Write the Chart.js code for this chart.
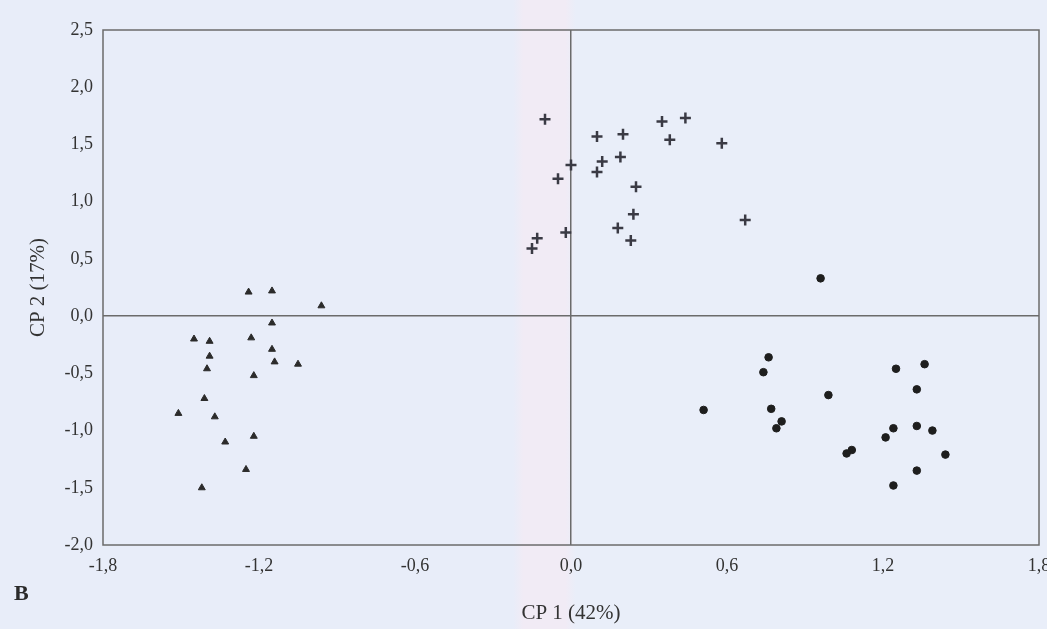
<!DOCTYPE html>
<html>
<head>
<meta charset="utf-8">
<script src="https://cdn.jsdelivr.net/npm/chart.js@4"></script>
<style>
  html, body {
    margin: 0;
    padding: 0;
    width: 1047px;
    height: 629px;
    overflow: hidden;
    background: linear-gradient(90deg, #e8edf9 0%, #e8edf9 49%, #f1ebf5 50%, #f1ebf5 54%, #e9eef9 55%, #e9eef9 100%);
  }
  #wrap { position: relative; width: 1047px; height: 629px; }
  #panel {
    position: absolute;
    left: 14px;
    top: 580px;
    font: bold 22px "Liberation Serif", serif;
    color: #2a2a2a;
  }
</style>
</head>
<body>
<div id="wrap">
  <canvas id="pcaChart" width="1047" height="629"></canvas>
  <div id="panel">B</div>
</div>
<script>
// group 1 (triangles)
const triX = [-1.24, -1.15, -0.96, -1.15, -1.45, -1.39, -1.23, -1.15, -1.39, -1.14,
              -1.05, -1.40, -1.22, -1.41, -1.51, -1.37, -1.22, -1.33, -1.25, -1.42];
const triY = [0.21, 0.22, 0.09, -0.06, -0.20, -0.22, -0.19, -0.29, -0.35, -0.40,
              -0.42, -0.46, -0.52, -0.72, -0.85, -0.88, -1.05, -1.10, -1.34, -1.50];

// group 2 (crosses)
const plusX = [-0.10, 0.10, 0.20, 0.35, 0.44, 0.38, 0.58, 0.00, 0.12, 0.19,
               -0.05, 0.10, 0.25, 0.24, 0.67, 0.18, 0.23, -0.02, -0.13, -0.15];
const plusY = [1.72, 1.57, 1.59, 1.70, 1.73, 1.54, 1.51, 1.32, 1.35, 1.39,
               1.20, 1.26, 1.13, 0.89, 0.84, 0.77, 0.66, 0.73, 0.68, 0.59];

// group 3 (circles)
const dotX = [0.96, 0.76, 0.74, 0.51, 0.77, 0.81, 0.79, 0.99, 1.25, 1.36,
              1.33, 1.24, 1.33, 1.39, 1.21, 1.08, 1.06, 1.44, 1.33, 1.24];
const dotY = [0.33, -0.36, -0.49, -0.82, -0.81, -0.92, -0.98, -0.69, -0.46, -0.42,
              -0.64, -0.98, -0.96, -1.00, -1.06, -1.17, -1.20, -1.21, -1.35, -1.48];

const xTicks = [-1.8, -1.2, -0.6, 0.0, 0.6, 1.2, 1.8];
const yTicks = [-2.0, -1.5, -1.0, -0.5, 0.0, 0.5, 1.0, 1.5, 2.0, 2.5];

function toPoints(xs, ys) {
  return xs.map((x, i) => ({ x: x, y: ys[i] }));
}

function commaLabel(v) {
  return v.toFixed(1).replace(".", ",");
}

const frame = {
  id: "frame",
  afterDraw(chart) {
    const a = chart.chartArea;
    const ctx = chart.ctx;
    ctx.save();
    ctx.strokeStyle = "#6b6b6b";
    ctx.lineWidth = 1.5;
    ctx.strokeRect(a.left, a.top, a.right - a.left, a.bottom - a.top);
    ctx.restore();
  },
};

Chart.defaults.font.family = '"Liberation Serif", "DejaVu Serif", serif';
Chart.defaults.color = "#333";

new Chart(document.getElementById("pcaChart"), {
  type: "scatter",
  data: {
    datasets: [
      {
        data: toPoints(triX, triY),
        pointStyle: "triangle",
        pointRadius: 4,
        backgroundColor: "#2b2b2b",
        borderColor: "#2b2b2b",
        borderWidth: 1,
      },
      {
        data: toPoints(plusX, plusY),
        pointStyle: "cross",
        pointRadius: 5.5,
        backgroundColor: "#3a3a44",
        borderColor: "#3a3a44",
        borderWidth: 2.5,
      },
      {
        data: toPoints(dotX, dotY),
        pointStyle: "circle",
        pointRadius: 3.8,
        backgroundColor: "#1e1e1e",
        borderColor: "#1e1e1e",
        borderWidth: 1,
      },
    ],
  },
  options: {
    responsive: false,
    animation: false,
    layout: { padding: { top: 30, right: 4, left: 0, bottom: 0 } },
    scales: {
      x: {
        type: "linear",
        min: -1.8,
        max: 1.8,
        afterBuildTicks(scale) {
          scale.ticks = xTicks.map((v) => ({ value: v }));
        },
        afterFit(scale) {
          scale.height = 84;
          scale.paddingLeft = 0;
          scale.paddingRight = 0;
        },
        grid: {
          drawTicks: false,
          color: (c) => (c.tick && c.tick.value === 0 ? "#6b6b6b" : "rgba(0,0,0,0)"),
          lineWidth: 1.5,
        },
        border: { display: false },
        ticks: {
          padding: 10,
          font: { size: 18 },
          callback: (v) => commaLabel(v),
        },
        title: {
          display: true,
          text: "CP 1 (42%)",
          font: { size: 21 },
          padding: { top: 0, bottom: 3 },
        },
      },
      y: {
        type: "linear",
        min: -2.0,
        max: 2.5,
        afterBuildTicks(scale) {
          scale.ticks = yTicks.map((v) => ({ value: v }));
        },
        afterFit(scale) {
          scale.width = 103;
          scale.paddingTop = 0;
          scale.paddingBottom = 0;
        },
        grid: {
          drawTicks: false,
          color: (c) => (c.tick && c.tick.value === 0 ? "#6b6b6b" : "rgba(0,0,0,0)"),
          lineWidth: 1.5,
        },
        border: { display: false },
        ticks: {
          padding: 10,
          font: { size: 18 },
          callback: (v) => commaLabel(v),
        },
        title: {
          display: true,
          text: "CP 2 (17%)",
          font: { size: 21 },
          padding: { top: 26, bottom: 0 },
        },
      },
    },
    plugins: {
      legend: { display: false },
      tooltip: { enabled: false },
    },
  },
  plugins: [frame],
});
</script>
</body>
</html>
